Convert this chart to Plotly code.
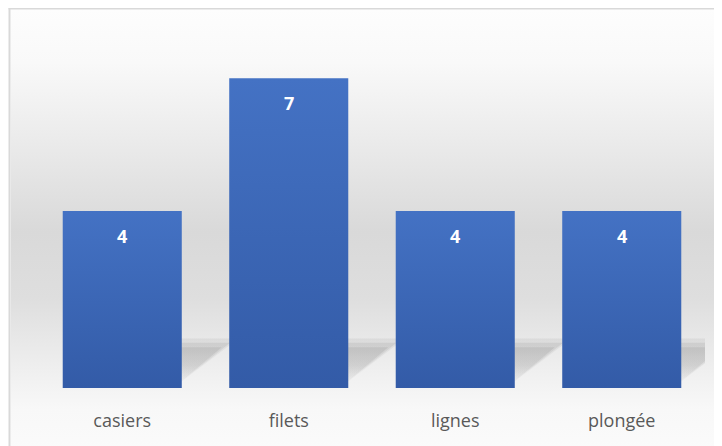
import base64
import plotly.graph_objects as go

categories = ["casiers", "filets", "lignes", "plongée"]
values = [4, 7, 4, 4]

W, H = 722, 446
L, R, T, B = 31, 25, 26, 66
BAR_W = 0.715

fig = go.Figure()

# soft perspective shadows behind each bar, layered to fake a blur
for i, v in enumerate(values):
    xr = i + BAR_W / 2
    for reach, top, alpha in [(0.34, 1.12, 0.18), (0.29, 1.02, 0.25), (0.24, 0.92, 0.3)]:
        fig.add_trace(go.Scatter(
            x=[xr - 0.05, xr - 0.05, xr + reach, xr - 0.05],
            y=[0, top, top, 0],
            fill="toself", mode="lines", line=dict(width=0),
            fillgradient=dict(type="vertical",
                              colorscale=[[0, "rgba(190,190,190,0)"],
                                          [0.5, f"rgba(160,160,160,{alpha * 0.6})"],
                                          [1, f"rgba(160,160,160,{alpha})"]]),
            hoverinfo="skip", showlegend=False,
        ))

# bars as gradient-filled polygons
for i, v in enumerate(values):
    x0, x1 = i - BAR_W / 2, i + BAR_W / 2
    fig.add_trace(go.Scatter(
        x=[x0, x1, x1, x0, x0], y=[0, 0, v, v, 0],
        fill="toself", mode="lines", line=dict(width=0),
        fillgradient=dict(type="vertical",
                          colorscale=[[0, "#335ba7"], [1, "#4472c4"]]),
        hoverinfo="skip", showlegend=False,
    ))

for i, v in enumerate(values):
    fig.add_annotation(
        x=i, y=v, text=f"<b>{v}</b>", showarrow=False,
        yanchor="middle", yshift=-25,
        font=dict(family="Open Sans", size=18, color="white"),
    )

# background gradient
svg = ("<svg xmlns='http://www.w3.org/2000/svg' width='10' height='100' preserveAspectRatio='none'>"
       "<defs><linearGradient id='g' x1='0' y1='0' x2='0' y2='1'>"
       "<stop offset='0' stop-color='#fdfdfd'/>"
       "<stop offset='0.12' stop-color='#f9f9f9'/>"
       "<stop offset='0.33' stop-color='#e8e8e8'/>"
       "<stop offset='0.5' stop-color='#d9d9d9'/>"
       "<stop offset='0.65' stop-color='#dedede'/>"
       "<stop offset='0.8' stop-color='#eeeeee'/>"
       "<stop offset='0.9' stop-color='#f8f8f8'/>"
       "<stop offset='1' stop-color='#fbfbfb'/>"
       "</linearGradient></defs><rect width='10' height='100' fill='url(#g)'/></svg>")
src = "data:image/svg+xml;base64," + base64.b64encode(svg.encode()).decode()
pw, ph = W - L - R, H - T - B


def px(x):
    return (x - L) / pw


def py(y):
    return 1 - (y - T) / ph


fig.add_layout_image(
    source=src, xref="paper", yref="paper",
    x=px(2.5), y=py(1), sizex=(W - 2.5) / pw, sizey=(H - 1) / ph,
    sizing="stretch", xanchor="left", yanchor="top", layer="below",
)
# chart-area border, only left and top edges fall inside the frame
fig.add_shape(type="line", xref="paper", yref="paper",
              x0=px(0.5), x1=px(W + 5), y0=py(0.5), y1=py(0.5),
              line=dict(color="#d9d9d9", width=2))
fig.add_shape(type="line", xref="paper", yref="paper",
              x0=px(1.5), x1=px(1.5), y0=py(0), y1=py(H + 5),
              line=dict(color="#d9d9d9", width=2))

fig.update_layout(
    width=W, height=H,
    margin=dict(l=L, r=R, t=T, b=B),
    paper_bgcolor="white", plot_bgcolor="rgba(0,0,0,0)",
    showlegend=False,
    font=dict(family="Open Sans", color="#595959"),
)
fig.update_xaxes(
    range=[-0.5, len(categories) - 0.5],
    tickvals=list(range(len(categories))), ticktext=categories,
    showgrid=False, zeroline=False, showline=False, ticks="",
    tickfont=dict(size=18, color="#595959"), ticklabelstandoff=20,
)
fig.update_yaxes(range=[0, 8], visible=False)

fig.write_html("out.html")
